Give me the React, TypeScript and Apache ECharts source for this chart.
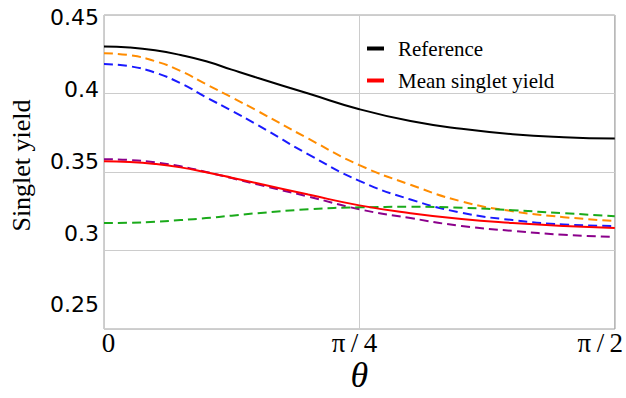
import React, { useEffect, useRef } from "react";
import * as echarts from "echarts";

// Sample angles in degrees (0 .. 90) -> theta in radians
const thetaDeg = [0, 4.5, 9, 13.5, 18, 22.5, 27, 36, 45, 54, 63, 72, 81, 90];

const referenceYield = [0.43, 0.429375, 0.42756, 0.4245, 0.4205, 0.41519, 0.41, 0.4, 0.39, 0.3825, 0.3775, 0.3741, 0.3722, 0.3713];
const meanYield = [0.35688, 0.35644, 0.35513, 0.35294, 0.34981, 0.34638, 0.34281, 0.33563, 0.32875, 0.32375, 0.32, 0.3175, 0.31563, 0.31438];
const orangeYield = [0.42563, 0.424375, 0.420625, 0.414375, 0.405875, 0.39756, 0.389, 0.37125, 0.35438, 0.34188, 0.33125, 0.325, 0.32125, 0.31875];
const blueYield = [0.41875, 0.417375, 0.41331, 0.4065, 0.39763, 0.389, 0.38006, 0.36125, 0.34438, 0.3325, 0.32406, 0.31938, 0.31656, 0.31563];
const purpleYield = [0.35813, 0.35763, 0.35613, 0.35363, 0.35006, 0.34613, 0.34213, 0.33438, 0.32625, 0.32063, 0.31563, 0.3125, 0.31, 0.30875];
const greenYield = [0.3175, 0.31769, 0.31831, 0.31938, 0.32063, 0.32219, 0.32375, 0.32625, 0.3275, 0.32781, 0.32719, 0.32563, 0.32375, 0.32188];

const yTickValues = [0.25, 0.3, 0.35, 0.4, 0.45];
const yTickLabels = ["0.25", "0.3", "0.35", "0.4", "0.45"];
const xTickValues = [0, Math.PI / 4, Math.PI / 2];
const xTickLabels = ["0", "π\u2009/\u20094", "π\u2009/\u20092"];

const toPairs = (vals: number[]) => vals.map((v, i) => [(thetaDeg[i] * Math.PI) / 180, v]);

const nearestLabel = (value: number, vals: number[], labels: string[]) => {
  let best = 0;
  for (let i = 1; i < vals.length; i++) {
    if (Math.abs(vals[i] - value) < Math.abs(vals[best] - value)) best = i;
  }
  return labels[best];
};

export default function App() {
  const ref = useRef<HTMLDivElement>(null);
  useEffect(() => {
    if (!ref.current) return;
    const chart = echarts.init(ref.current, null, { renderer: "svg" });
    const line = (name: string, color: string, vals: number[], dashed: boolean) => ({
      name,
      type: "line",
      xAxisIndex: 0,
      yAxisIndex: 0,
      data: toPairs(vals),
      smooth: 0.5,
      symbol: "none",
      lineStyle: { color, width: 2, type: dashed ? [9, 5] : "solid" },
      itemStyle: { color },
      z: dashed ? 2 : 3,
    });
    chart.setOption({
      animation: false,
      backgroundColor: "#ffffff",
      grid: {
        left: 102,
        right: 11,
        top: 15,
        bottom: 63,
        show: true,
        borderColor: "#a0a0a0",
        borderWidth: 1,
        backgroundColor: "transparent",
      },
      legend: {
        data: ["Reference", "Mean singlet yield"],
        orient: "vertical",
        left: 367,
        top: 38,
        padding: 0,
        itemGap: 11,
        itemWidth: 17,
        itemHeight: 4,
        icon: "rect",
        textStyle: {
          fontFamily: "Liberation Serif",
          fontSize: 21,
          lineHeight: 21,
          color: "#000",
          padding: [0, 0, 0, 9],
        },
      },
      xAxis: [
        {
          type: "value",
          position: "bottom",
          min: 0,
          max: Math.PI / 2,
          interval: Math.PI / 4,
          axisLine: { show: false },
          axisTick: { show: false },
          axisLabel: { show: false },
          splitLine: { show: true, lineStyle: { color: "#cccccc", width: 1 } },
          name: "θ",
          nameLocation: "middle",
          nameGap: 33,
          nameTextStyle: {
            fontFamily: "Liberation Serif",
            fontStyle: "italic",
            fontSize: 36,
            lineHeight: 26,
            color: "#000",
          },
        },
        {
          type: "value",
          position: "bottom",
          min: -0.01431,
          max: 1.6169,
          axisLine: { show: false },
          axisTick: { show: false },
          splitLine: { show: false },
          axisLabel: {
            show: true,
            customValues: xTickValues,
            margin: 1,
            fontFamily: "Liberation Serif",
            fontSize: 27,
            lineHeight: 26,
            color: "#000",
            formatter: (v: number) => nearestLabel(v, xTickValues, xTickLabels),
          },
        },
      ],
      yAxis: [
        {
          type: "value",
          position: "left",
          min: 0.25,
          max: 0.45,
          interval: 0.05,
          axisLine: { show: false },
          axisTick: { show: false },
          axisLabel: { show: false },
          splitLine: { show: true, lineStyle: { color: "#cccccc", width: 1 } },
          name: "Singlet yield",
          nameLocation: "middle",
          nameGap: 70,
          nameRotate: 90,
          nameTextStyle: {
            fontFamily: "Liberation Serif",
            fontSize: 26,
            color: "#000",
            padding: [0, 0, 0, 13],
          },
        },
        {
          type: "value",
          position: "left",
          min: 0.23317,
          max: 0.45205,
          axisLine: { show: false },
          axisTick: { show: false },
          splitLine: { show: false },
          axisLabel: {
            show: true,
            customValues: yTickValues,
            margin: 5,
            fontFamily: "DejaVu Sans",
            fontSize: 22,
            color: "#000",
            formatter: (v: number) => nearestLabel(v, yTickValues, yTickLabels),
          },
        },
      ],
      series: [
        line("Sample A", "#ff8c00", orangeYield, true),
        line("Sample B", "#1a1aff", blueYield, true),
        line("Sample C", "#8b008b", purpleYield, true),
        line("Sample D", "#1aaa1a", greenYield, true),
        line("Reference", "#000000", referenceYield, false),
        line("Mean singlet yield", "#ff0000", meanYield, false),
      ],
    });
    return () => chart.dispose();
  }, []);
  return (
    <div
      ref={ref}
      style={{ position: "fixed", left: 0, top: 0, width: 626, height: 398 }}
    />
  );
}
